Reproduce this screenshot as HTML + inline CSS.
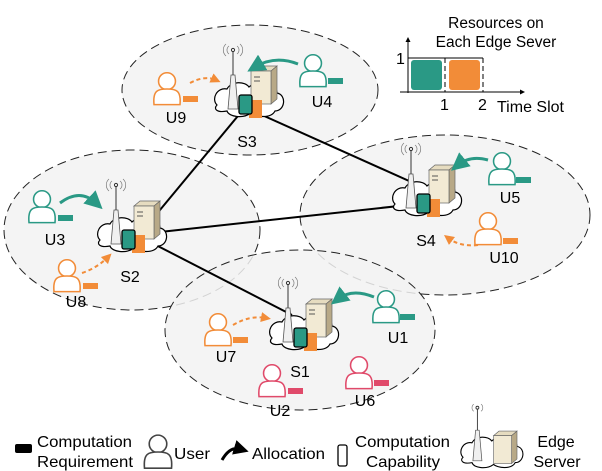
<!DOCTYPE html>
<html><head><meta charset="utf-8"><style>
html,body{margin:0;padding:0;background:#fff;}
svg{display:block;font-family:"Liberation Sans",Arial,sans-serif;}
</style></head><body>
<svg width="602" height="471" viewBox="0 0 602 471" xmlns="http://www.w3.org/2000/svg">
<defs>
<g id="user">
<circle cx="0" cy="-6" r="6.5" fill="#fff" stroke="currentColor" stroke-width="1.2"/>
<path d="M-10,12 C-11,1 -7,0 0,0 C7,0 11,1 10,12 Z" fill="#fff" stroke="currentColor" stroke-width="1.2"/>
</g>
<g id="srv">
<path d="M-30,8 C-36,2 -30,-10 -20,-8 C-16,-16 -2,-16 2,-10 C10,-18 30,-14 30,-4 C40,-2 38,14 28,14 C24,22 8,20 4,16 C-4,22 -18,20 -20,14 C-30,16 -34,12 -30,8 Z" fill="#fff" stroke="#000" stroke-width="1.2"/>
<polygon points="-19,12 -9,12 -12,-22 -16,-22" fill="#f0f0f0" stroke="#555" stroke-width="0.8"/>
<line x1="-14" y1="-22" x2="-14" y2="-46" stroke="#333" stroke-width="1"/>
<circle cx="-14" cy="-47" r="1.6" fill="none" stroke="#333"/>
<path d="M-18,-51 a5,5 0 0 0 0,8 M-10,-51 a5,5 0 0 1 0,8 M-21,-53 a8,8 0 0 0 0,12 M-7,-53 a8,8 0 0 1 0,12" fill="none" stroke="#777" stroke-width="0.7"/>
<polygon points="4,-26 10,-31 30,-31 24,-26" fill="#e6dcc0" stroke="#666" stroke-width="0.7"/>
<polygon points="24,-26 30,-31 30,2 24,7" fill="#b8a987" stroke="#666" stroke-width="0.7"/>
<rect x="4" y="-26" width="20" height="33" fill="#f2ead4" stroke="#666" stroke-width="0.7"/>
<line x1="7" y1="-20" x2="13" y2="-20" stroke="#555"/><line x1="7" y1="-16" x2="13" y2="-16" stroke="#555"/>
<rect x="2" y="3" width="13" height="18" fill="#f28c38"/>
<rect x="-8" y="-2" width="13" height="19" rx="2" fill="#2a9985" stroke="#000" stroke-width="1.3"/>
</g>
<marker id="at" markerWidth="6" markerHeight="6" refX="3" refY="3" orient="auto" markerUnits="strokeWidth"><path d="M0,0 L6,3 L0,6 Z" fill="#2a9985"/></marker>
<marker id="ao" markerWidth="5" markerHeight="5" refX="2.5" refY="2.5" orient="auto" markerUnits="strokeWidth"><path d="M0,0 L5,2.5 L0,5 Z" fill="#f28c38"/></marker>
<marker id="ak" markerWidth="5" markerHeight="5" refX="2" refY="2.5" orient="auto" markerUnits="strokeWidth"><path d="M0,0 L5,2.5 L0,5 Z" fill="#000"/></marker>
</defs>
<g fill="#f2f2f2" fill-opacity="0.85" stroke="#222" stroke-width="1" stroke-dasharray="9,5">
<ellipse cx="250" cy="90" rx="128" ry="65"/>
<ellipse cx="132" cy="230" rx="128" ry="80"/>
<ellipse cx="445" cy="215" rx="145" ry="80"/>
<ellipse cx="300" cy="330" rx="135" ry="80"/>
</g>
<g stroke="#000" stroke-width="2">
<line x1="150" y1="222" x2="247" y2="105"/>
<line x1="262" y1="115" x2="418" y2="185"/>
<line x1="160" y1="232" x2="408" y2="205"/>
<line x1="150" y1="242" x2="292" y2="315"/>
</g>
<use href="#srv" x="247" y="97"/>
<use href="#srv" x="130" y="232"/>
<use href="#srv" x="425" y="196"/>
<use href="#srv" x="302" y="330"/>
<g font-size="16" fill="#000" text-anchor="middle">
<text x="247" y="147">S3</text><text x="130" y="282">S2</text>
<text x="426" y="246">S4</text><text x="300" y="377">S1</text>
</g>
<g color="#2a9985">
<use href="#user" transform="translate(42,207) scale(1.3)"/>
<use href="#user" transform="translate(313,71) scale(1.3)"/>
<use href="#user" transform="translate(502,169) scale(1.3)"/>
<use href="#user" transform="translate(386,307) scale(1.3)"/>
</g>
<g color="#f28c38">
<use href="#user" transform="translate(67,276) scale(1.3)"/>
<use href="#user" transform="translate(167,89) scale(1.3)"/>
<use href="#user" transform="translate(488,229) scale(1.3)"/>
<use href="#user" transform="translate(218,330) scale(1.3)"/>
</g>
<g color="#e04a6a">
<use href="#user" transform="translate(272,381) scale(1.3)"/>
<use href="#user" transform="translate(359,373) scale(1.3)"/>
</g>
<g fill="#2a9985"><rect x="58" y="215" width="15" height="6"/><rect x="328" y="78" width="15" height="6"/><rect x="516" y="177" width="15" height="6"/><rect x="400" y="314" width="15" height="6"/></g>
<g fill="#f28c38"><rect x="83" y="283" width="15" height="6"/><rect x="183" y="96" width="15" height="6"/><rect x="503" y="238" width="15" height="6"/><rect x="233" y="337" width="15" height="6"/></g>
<g fill="#e04a6a"><rect x="288" y="388" width="15" height="6"/><rect x="374" y="380" width="15" height="6"/></g>
<g font-size="16" fill="#000" text-anchor="middle">
<text x="55" y="245">U3</text><text x="76" y="307">U8</text><text x="176" y="123">U9</text>
<text x="322" y="107">U4</text><text x="510" y="203">U5</text><text x="504" y="263">U10</text>
<text x="398" y="343">U1</text><text x="226" y="362">U7</text><text x="280" y="416">U2</text><text x="365" y="406">U6</text>
</g>
<g fill="none" stroke="#2a9985" stroke-width="3">
<path d="M60,203 Q80,188 96,203" marker-end="url(#at)"/>
<path d="M298,64 Q275,55 255,67" marker-end="url(#at)"/>
<path d="M488,160 Q470,155 458,165" marker-end="url(#at)"/>
<path d="M374,297 Q352,288 338,299" marker-end="url(#at)"/>
</g>
<g fill="none" stroke="#f28c38" stroke-width="2" stroke-dasharray="4,3">
<path d="M82,273 Q97,268 108,257" marker-end="url(#ao)"/>
<path d="M190,83 Q205,75 216,80" marker-end="url(#ao)"/>
<path d="M478,245 Q460,247 448,238" marker-end="url(#ao)"/>
<path d="M233,325 Q250,315 266,318" marker-end="url(#ao)"/>
</g>
<!-- inset -->
<text x="496" y="28" font-size="15.5" text-anchor="middle">Resources on</text>
<text x="496" y="47" font-size="15.5" text-anchor="middle">Each Edge Sever</text>
<line x1="408" y1="93" x2="408" y2="40" stroke="#000" stroke-width="1" marker-end="url(#ak)"/>
<line x1="400" y1="92" x2="522" y2="92" stroke="#000" stroke-width="1" marker-end="url(#ak)"/>
<line x1="408" y1="58" x2="483" y2="58" stroke="#000"/>
<line x1="445" y1="58" x2="445" y2="92" stroke="#000" stroke-dasharray="5,3"/>
<line x1="483" y1="58" x2="483" y2="92" stroke="#000" stroke-dasharray="5,3"/>
<rect x="411" y="60" width="31" height="30" rx="3" fill="#2a9985"/>
<rect x="449" y="60" width="31" height="30" rx="3" fill="#f28c38"/>
<g font-size="16"><text x="396" y="64">1</text><text x="440" y="110">1</text><text x="478" y="110">2</text><text x="497" y="112">Time Slot</text></g>
<!-- legend -->
<rect x="15" y="444" width="17" height="9" rx="2" fill="#000"/>
<g font-size="16"><text x="37" y="447" textLength="95" lengthAdjust="spacingAndGlyphs">Computation</text><text x="37" y="467" textLength="96" lengthAdjust="spacingAndGlyphs">Requirement</text></g>
<g color="#444"><use href="#user" transform="translate(158,452) scale(1.35)"/></g>
<text x="174" y="459" font-size="16" textLength="36" lengthAdjust="spacingAndGlyphs">User</text>
<path d="M222,460 Q230,446 240,449" fill="none" stroke="#000" stroke-width="3" marker-end="url(#ak)"/>
<text x="252" y="459" font-size="16" textLength="73" lengthAdjust="spacingAndGlyphs">Allocation</text>
<rect x="338" y="445" width="9" height="21" rx="2" fill="#fff" stroke="#000" stroke-width="1.3"/>
<g font-size="16"><text x="355" y="447" textLength="95" lengthAdjust="spacingAndGlyphs">Computation</text><text x="366" y="467" textLength="74" lengthAdjust="spacingAndGlyphs">Capability</text></g>
<g transform="translate(490,450) scale(0.9)">
<path d="M-30,8 C-36,2 -30,-10 -20,-8 C-16,-16 -2,-16 2,-10 C10,-18 30,-14 30,-4 C40,-2 38,14 28,14 C24,22 8,20 4,16 C-4,22 -18,20 -20,14 C-30,16 -34,12 -30,8 Z" fill="#fff" stroke="#000" stroke-width="1.2"/>
<polygon points="-19,12 -9,12 -12,-22 -16,-22" fill="#f0f0f0" stroke="#555" stroke-width="0.8"/>
<line x1="-14" y1="-22" x2="-14" y2="-46" stroke="#333"/>
<circle cx="-14" cy="-47" r="1.6" fill="none" stroke="#333"/>
<path d="M-18,-51 a5,5 0 0 0 0,8 M-10,-51 a5,5 0 0 1 0,8" fill="none" stroke="#777" stroke-width="0.7"/>
<polygon points="4,-16 10,-21 30,-21 24,-16" fill="#e6dcc0" stroke="#666" stroke-width="0.7"/>
<polygon points="24,-16 30,-21 30,10 24,15" fill="#b8a987" stroke="#666" stroke-width="0.7"/>
<rect x="4" y="-16" width="20" height="31" fill="#f2ead4" stroke="#666" stroke-width="0.7"/>
</g>
<g font-size="16" text-anchor="middle"><text x="556" y="447">Edge</text><text x="557" y="467">Server</text></g>
</svg>
</body></html>
